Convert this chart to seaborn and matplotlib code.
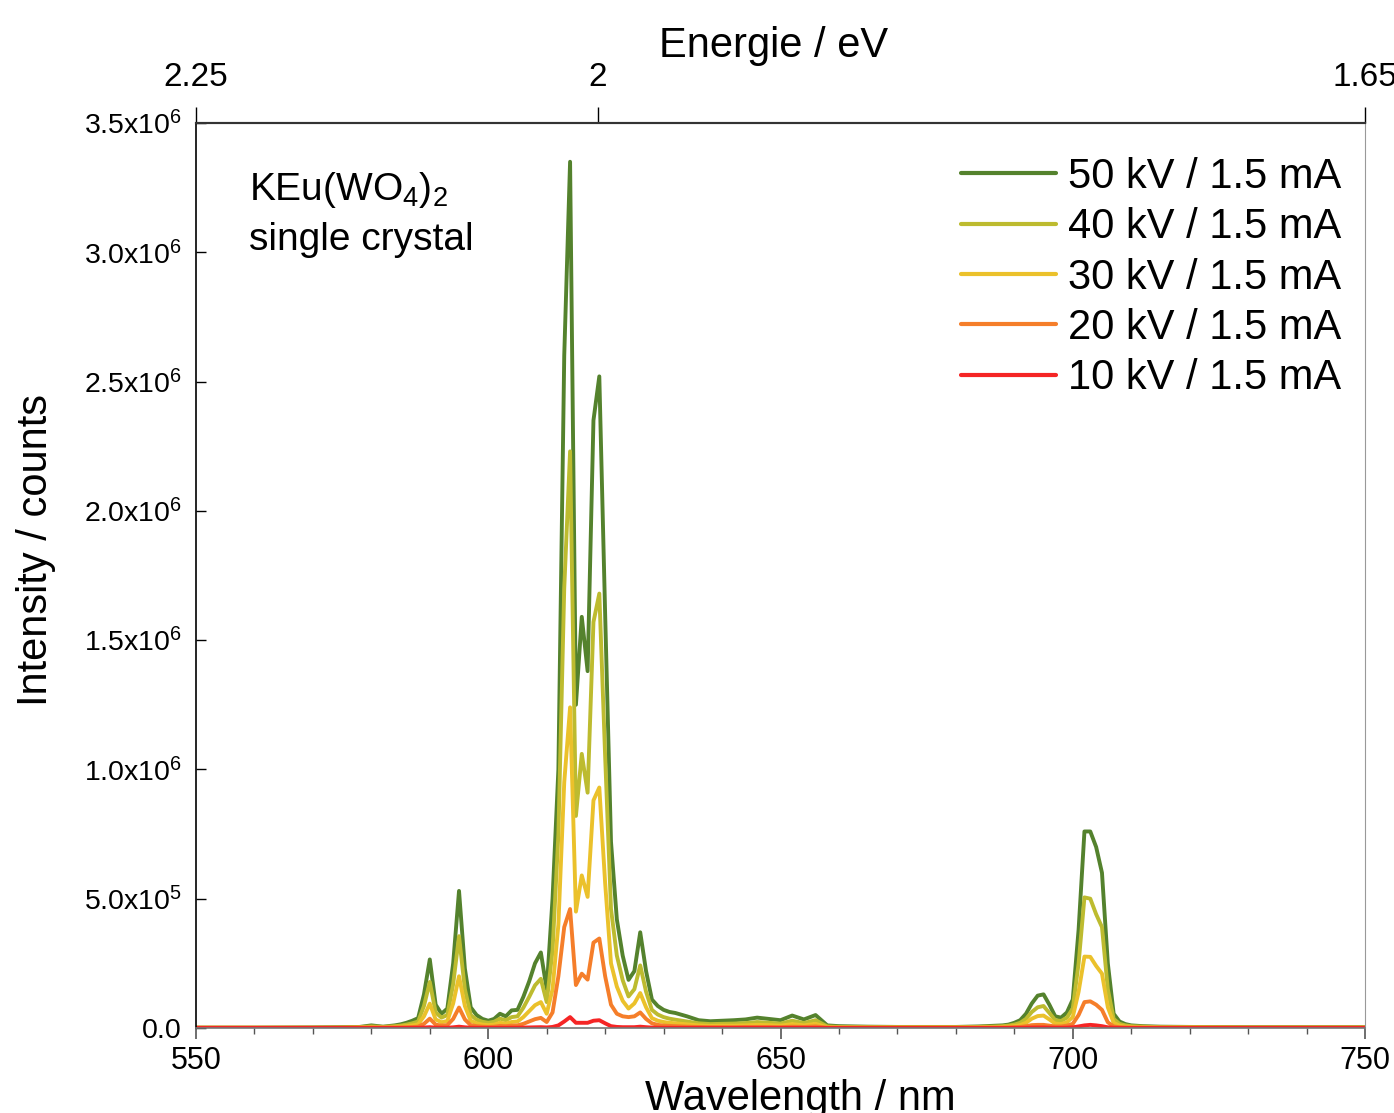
import numpy as np
import pandas as pd
import seaborn as sns
import matplotlib.pyplot as plt
from matplotlib.ticker import MultipleLocator, NullLocator

# wavelength grid (nm) and intensities (in 10^3 counts)
wavelength = [550, 560, 570, 575, 578, 580, 582,
              584, 585, 586, 587, 588, 589, 590, 591, 592, 593, 594, 595, 596, 597, 598, 599,
              600, 601, 602, 603, 604, 605, 606, 607, 608, 609, 610, 611, 612, 613, 614, 615,
              616, 617, 618, 619, 620, 621, 622, 623, 624, 625, 626, 627, 628, 629, 630, 631, 632,
              634, 636, 638, 640, 642, 644, 646, 648, 650, 652, 654, 656, 658, 660,
              665, 670, 675, 680,
              684, 685, 686, 687, 688, 689, 690, 691, 692, 693, 694, 695, 696, 697, 698, 699,
              700, 701, 702, 703, 704, 705, 706, 707, 708, 709, 710,
              712, 715, 720, 730, 740, 750]

i_50kv = [1, 1, 2, 3, 4, 10, 5,
          10, 14, 20, 28, 38, 130, 265, 90, 55, 75, 250, 530, 230, 80, 50, 35,
          28, 35, 55, 45, 68, 70, 120, 180, 250, 292, 150, 500, 1000, 2600, 3350, 1250,
          1590, 1380, 2350, 2520, 1600, 720, 420, 280, 186, 220, 370, 220, 110, 85, 70, 62, 58,
          45, 30, 26, 28, 30, 33, 40, 35, 30, 48, 33, 50, 10, 7,
          5, 4, 4, 4,
          6, 7, 8, 9, 10, 13, 20, 30, 55, 95, 125, 130, 90, 45, 40, 60,
          110, 380, 760, 760, 700, 600, 250, 55, 25, 15, 10,
          7, 5, 4, 3, 3, 3]

i_40kv = [1, 1, 1, 2, 3, 6, 4,
          7, 9, 13, 18, 25, 85, 178, 60, 40, 50, 170, 355, 150, 50, 32, 24,
          20, 24, 36, 30, 42, 45, 78, 120, 165, 190, 100, 300, 750, 1700, 2230, 820,
          1060, 910, 1570, 1680, 1050, 460, 280, 185, 122, 150, 242, 140, 70, 52, 42, 36, 32,
          25, 18, 15, 16, 17, 19, 23, 20, 17, 28, 19, 30, 6, 4,
          3, 3, 3, 3,
          4, 5, 5, 6, 7, 9, 13, 20, 35, 62, 80, 85, 58, 30, 27, 40,
          75, 250, 505, 500, 440, 390, 150, 35, 16, 10, 7,
          5, 3, 3, 2, 2, 2]

i_30kv = [1, 1, 1, 1, 2, 3, 2,
          4, 5, 7, 10, 14, 45, 94, 33, 22, 27, 95, 200, 85, 28, 18, 13,
          11, 13, 20, 17, 23, 25, 42, 65, 88, 100, 55, 150, 400, 950, 1240, 450,
          590, 507, 880, 930, 560, 250, 160, 105, 75, 95, 135, 80, 38, 28, 23, 20, 18,
          14, 10, 8, 9, 9, 10, 12, 11, 9, 15, 10, 16, 3, 2,
          2, 2, 2, 2,
          2, 3, 3, 3, 4, 5, 7, 11, 20, 36, 46, 48, 33, 17, 15, 22,
          42, 140, 276, 275, 240, 210, 80, 20, 9, 5, 4,
          3, 2, 2, 1, 1, 1]

i_20kv = [0.5, 0.5, 0.5, 0.5, 0.8, 1, 1,
          1.5, 2, 2.5, 3.5, 5, 16, 36, 13, 9, 11, 35, 79, 33, 11, 7, 5,
          4, 5, 8, 7, 9, 10, 16, 25, 34, 39, 23, 60, 200, 390, 460, 166,
          210, 187, 330, 346, 200, 90, 55, 45, 42, 45, 60, 35, 18, 12, 9, 8, 7,
          5, 4, 3, 3, 3, 4, 4, 4, 3, 5, 4, 6, 1, 1,
          1, 1, 1, 1,
          1, 1, 1, 1.2, 1.5, 2, 3, 4, 7, 11, 12, 12, 9, 6, 6, 9,
          16, 50, 100, 103, 90, 70, 22, 6, 3, 2, 1.5,
          1, 1, 1, 1, 1, 1]

i_10kv = [0.5, 0.5, 0.5, 0.5, 0.5, 0.5, 0.5,
          0.5, 0.5, 0.5, 0.6, 0.8, 1.5, 3, 1.2, 1, 1, 2.5, 5, 2.5, 1, 0.8, 0.6,
          0.5, 0.6, 0.8, 0.8, 1, 1, 1.5, 2, 2.5, 3, 2, 4, 10, 25, 42, 20,
          20, 20, 28, 30, 18, 7, 4, 3, 3, 3, 5, 3, 1.5, 1, 0.8, 0.7, 0.6,
          0.5, 0.5, 0.5, 0.5, 0.5, 0.5, 0.5, 0.5, 0.5, 0.5, 0.5, 0.5, 0.3, 0.3,
          0.3, 0.3, 0.3, 0.3,
          0.3, 0.3, 0.3, 0.3, 0.3, 0.4, 0.5, 0.6, 1, 1.5, 1.8, 1.8, 1.3, 0.8, 0.8, 1.2,
          2.5, 6, 10, 12, 10, 7, 2.5, 1, 0.5, 0.4, 0.3,
          0.3, 0.3, 0.3, 0.3, 0.3, 0.3]

series_labels = ["50 kV / 1.5 mA", "40 kV / 1.5 mA", "30 kV / 1.5 mA",
                 "20 kV / 1.5 mA", "10 kV / 1.5 mA"]
series_colors = ["#54822D", "#BDBB2F", "#EBC12B", "#F57E2A", "#F52525"]

ytick_values = [0, 0.5e6, 1.0e6, 1.5e6, 2.0e6, 2.5e6, 3.0e6, 3.5e6]
ytick_labels = ["0.0", "5.0x10$^5$", "1.0x10$^6$", "1.5x10$^6$", "2.0x10$^6$",
                "2.5x10$^6$", "3.0x10$^6$", "3.5x10$^6$"]
xtick_values = [550, 600, 650, 700, 750]
energy_ticks = [2.25, 2, 1.65]
energy_labels = ["2.25", "2", "1.65"]

HC = 1237.5  # eV nm, as used for the top axis

sns.set_style("ticks")
plt.rcParams["font.family"] = ["Liberation Sans", "DejaVu Sans"]
plt.rcParams["mathtext.fontset"] = "custom"
plt.rcParams["mathtext.rm"] = "Liberation Sans"
plt.rcParams["mathtext.it"] = "Liberation Sans:italic"
plt.rcParams["mathtext.default"] = "regular"
plt.rcParams["text.color"] = "black"
plt.rcParams["axes.labelcolor"] = "black"
plt.rcParams["xtick.color"] = "black"
plt.rcParams["ytick.color"] = "black"

frames = []
for lab, vals in zip(series_labels, [i_50kv, i_40kv, i_30kv, i_20kv, i_10kv]):
    frames.append(pd.DataFrame({"wl": wavelength,
                                "counts": np.array(vals, dtype=float) * 1e3,
                                "series": lab}))
df = pd.concat(frames, ignore_index=True)

fig = plt.figure(figsize=(13.94, 11.13), dpi=100)
ax = fig.add_axes([0.1406, 0.0764, 0.8386, 0.8131])

sns.lineplot(data=df, x="wl", y="counts", hue="series", hue_order=series_labels,
             palette=series_colors, estimator=None, sort=False, linewidth=2.8, ax=ax)

ax.set_xlim(550, 750)
ax.set_ylim(0, 3.5e6)
ax.set_xticks(xtick_values)
ax.xaxis.set_minor_locator(MultipleLocator(10))
ax.set_yticks(ytick_values, ytick_labels)
ax.yaxis.set_minor_locator(NullLocator())

ax.tick_params(axis="x", which="major", direction="out", length=8, width=1.2,
               color="#555555", labelsize=22, pad=5)
ax.tick_params(axis="x", which="minor", direction="out", length=4.5, width=1,
               color="#555555")
ax.tick_params(axis="y", direction="in", length=7, width=1, labelsize=20.5, pad=10)

for side in ["left", "right", "top", "bottom"]:
    ax.spines[side].set_visible(True)
ax.spines["left"].set_color("black")
ax.spines["left"].set_linewidth(1.2)
ax.spines["bottom"].set_color("#777777")
ax.spines["bottom"].set_linewidth(1.2)
ax.spines["right"].set_color("#999999")
ax.spines["right"].set_linewidth(0.8)
ax.spines["top"].set_color("#333333")
ax.spines["top"].set_linewidth(1.5)

ax.set_xlabel("Wavelength / nm", fontsize=30, labelpad=2)
ax.xaxis.label.set_x(0.517)
ax.set_ylabel("Intensity / counts", fontsize=30, labelpad=20)
ax.yaxis.label.set_y(0.528)


def nm_to_ev(x):
    x = np.asarray(x, dtype=float)
    with np.errstate(divide="ignore"):
        return HC / x


secax = ax.secondary_xaxis("top", functions=(nm_to_ev, nm_to_ev))
secax.set_xticks(energy_ticks, energy_labels)
secax.xaxis.set_minor_locator(NullLocator())
secax.tick_params(direction="out", length=11.5, width=1, labelsize=24, pad=10)
secax.spines["top"].set_color("#333333")
secax.spines["top"].set_linewidth(1.5)
secax.set_xlabel("Energie / eV", fontsize=30, labelpad=4)
secax.xaxis.label.set_x(0.494)

ax.text(0.0453, 0.915, "KEu(WO$_4$)$_2$", transform=ax.transAxes, fontsize=28,
        va="baseline", ha="left")
ax.text(0.0453, 0.8597, "single crystal", transform=ax.transAxes, fontsize=28,
        va="baseline", ha="left")

handles, labels = ax.get_legend_handles_labels()
leg = ax.legend(handles, labels, loc="upper right", bbox_to_anchor=(1.005, 0.995),
                frameon=False, fontsize=30, handlelength=2.28, handletextpad=0.29,
                labelspacing=0.25, borderaxespad=0.3, title=None)
for line in leg.get_lines():
    line.set_linewidth(3)

fig.savefig("out.png", dpi=100)
